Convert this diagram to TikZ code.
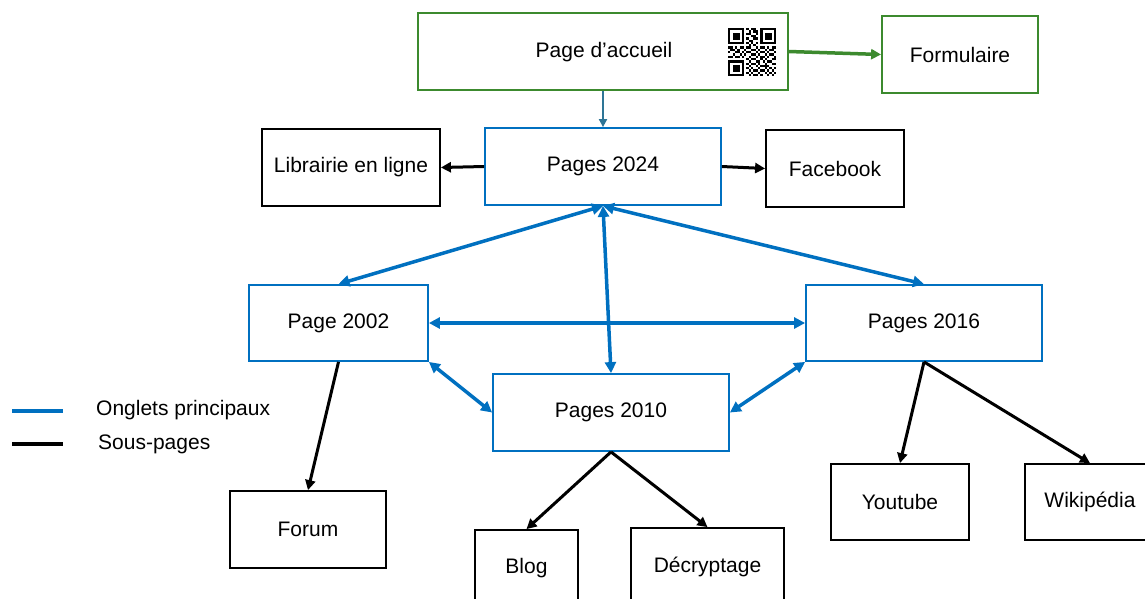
\documentclass[tikz,border=0pt]{standalone}
\usepackage{fontspec}
\setmainfont{Liberation Sans}
\usetikzlibrary{arrows.meta}

\definecolor{ongletbleu}{RGB}{0,112,192}
\definecolor{accvert}{RGB}{60,138,46}
\definecolor{lienbleu}{RGB}{46,117,150}

\tikzset{
  page/.style={draw, line width=1.8pt, inner sep=0pt, align=center},
  bleue/.style={page, draw=ongletbleu},
  verte/.style={page, draw=accvert},
  onglet/.style={draw=ongletbleu, line width=3.5pt, {Triangle[length=11pt,width=11pt]}-{Triangle[length=11pt,width=11pt]}},
  souspage/.style={draw=black, line width=3pt, -{Triangle[length=10pt,width=10pt]}},
}

\begin{document}
\begin{tikzpicture}[x=1pt, y=-1pt]
\fontsize{21}{25}\selectfont
\useasboundingbox (0,0) rectangle (1145,598);

% page d'accueil + formulaire
\node[verte, minimum width=370pt, minimum height=77pt] (accueil) at (603,51.5) {};
\node at (604,52.5) {Page d’accueil};
\node[verte, minimum width=156pt, minimum height=77pt] (formulaire) at (960,54.5) {Formulaire};

% code QR
\begin{scope}[shift={(728,28)}]
\newcommand\qrm{2.3}
\foreach \qx/\qy in {0/0,14/0,0/14}{
  \fill (\qx*\qrm,\qy*\qrm) rectangle ++(7*\qrm,7*\qrm);
  \fill[white] (\qx*\qrm+\qrm,\qy*\qrm+\qrm) rectangle ++(5*\qrm,5*\qrm);
  \fill (\qx*\qrm+2*\qrm,\qy*\qrm+2*\qrm) rectangle ++(3*\qrm,3*\qrm);
}
\foreach \r/\cols in {0/{8,10,11},1/{9,11,12},2/{8,9,12},3/{10,11},4/{8,11,12},
  5/{9,10},6/{8,10,12},7/{9,11},
  8/{0,1,3,5,6,8,9,12,14,15,17,19,20},9/{1,2,4,7,10,11,13,16,18,19},
  10/{0,3,4,6,8,9,12,14,15,17,20},11/{2,5,7,10,11,13,16,18,19},
  12/{0,1,3,4,6,9,12,14,15,17,20},13/{8,10,11,14,16,19,20},
  14/{9,12,13,15,17,18},15/{8,10,11,13,16,19,20},16/{9,12,14,15,16,17},
  17/{8,10,13,16,18,20},18/{9,11,12,14,15,17,19},19/{8,10,13,16,18,20},
  20/{9,11,12,14,17,19}}{
  \foreach \c in \cols
    \fill (\c*\qrm,\r*\qrm) rectangle ++(\qrm,\qrm);
}
\end{scope}

% onglets principaux
\node[bleue, minimum width=236pt, minimum height=77pt] (p2024) at (603,166.5) {Pages 2024};
\node[bleue, minimum width=179pt, minimum height=76pt] (p2002) at (338.5,323) {Page 2002};
\node[bleue, minimum width=236pt, minimum height=76pt] (p2016) at (924,323) {Pages 2016};
\node[bleue, minimum width=236pt, minimum height=77pt] (p2010) at (611,412.5) {Pages 2010};

% sous-pages
\node[page, minimum width=178pt, minimum height=77pt] (librairie) at (351,167.5) {Librairie en ligne};
\node[page, minimum width=138pt, minimum height=77pt] (facebook) at (835,168.5) {Facebook};
\node[page, minimum width=156pt, minimum height=77pt] (forum) at (308,529.5) {Forum};
\node[page, minimum width=103pt, minimum height=77pt] (blog) at (526.5,568.5) {Blog};
\node[page, minimum width=153pt, minimum height=77pt] (decryptage) at (707.5,566.5) {Décryptage};
\node[page, minimum width=138pt, minimum height=76pt] (youtube) at (900,502) {Youtube};
\node[page, minimum width=130pt, minimum height=76pt] (wikipedia) at (1090,502) {Wikipédia};

% liens
\path[draw=lienbleu, line width=1.8pt, -{Triangle[length=8pt,width=8pt]}] (accueil) -- (p2024);
\path[draw=accvert, line width=3.5pt, -{Triangle[length=10pt,width=10pt]}] (accueil.east) -- (formulaire.west);
\path[souspage] (p2024.west) -- (librairie.east);
\path[souspage] (p2024.east) -- (facebook.west);

\path[onglet] (p2024.south) -- (p2002.north);
\path[onglet] (p2024.south) -- (p2016.north);
\path[onglet] (p2024.south) -- (p2010.north);
\path[onglet] (p2002.east) -- (p2016.west);
\path[onglet] (p2002.south east) -- (p2010.west);
\path[onglet] (p2016.south west) -- (p2010.east);

\path[souspage] (p2002.south) -- (forum.north);
\path[souspage] (p2010.south) -- (blog.north);
\path[souspage] (p2010.south) -- (decryptage.north);
\path[souspage] (p2016.south) -- (youtube.north);
\path[souspage] (p2016.south) -- (wikipedia.north);

% legende
\coordinate (lb1) at (12,411);
\coordinate (lb2) at (63,411);
\coordinate (ln1) at (12,444);
\coordinate (ln2) at (63,444);
\path[draw=ongletbleu, line width=3.5pt] (lb1) -- (lb2);
\path[draw=black, line width=3.5pt] (ln1) -- (ln2);
\node[anchor=west, inner sep=0pt] (legbleu) at (96,410) {Onglets principaux};
\node[anchor=west, inner sep=0pt] (legnoir) at (98,444) {Sous-pages};
\end{tikzpicture}
\end{document}
